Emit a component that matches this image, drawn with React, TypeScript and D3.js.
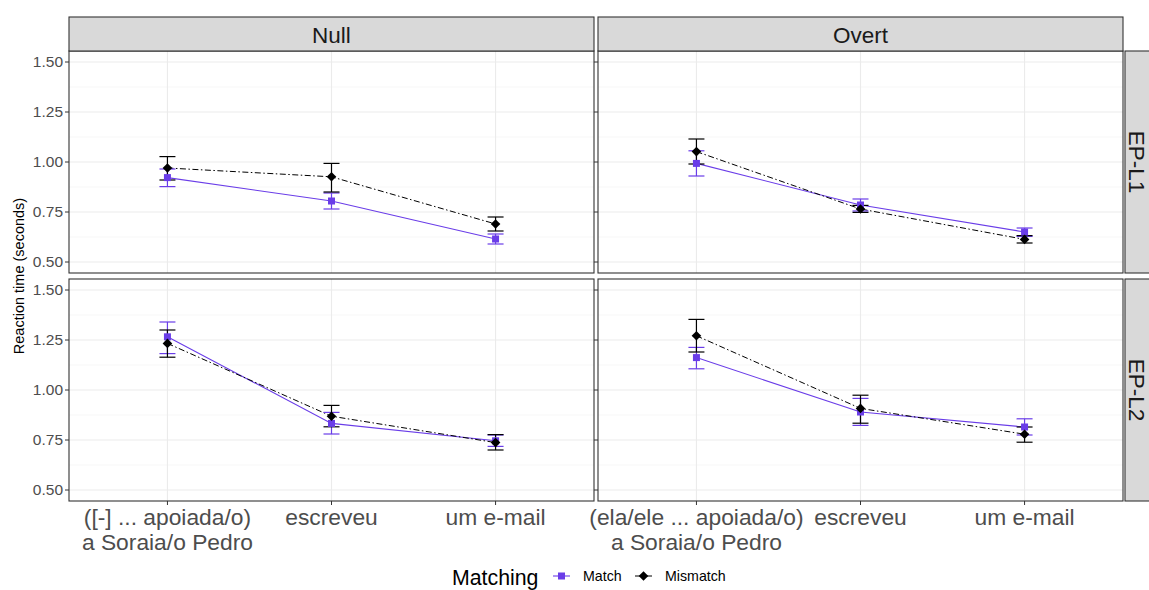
import * as d3 from "d3"
import React from "react"

// facets and categories
const conditions = ["Null", "Overt"]
const groups = ["EP-L1", "EP-L2"]
const series = ["Match", "Mismatch"]
const positions = ["p1", "p2", "p3"]
const posLabels = {
  Null: [["([-] ... apoiada/o)", "a Soraia/o Pedro"], ["escreveu"], ["um e-mail"]],
  Overt: [["(ela/ele ... apoiada/o)", "a Soraia/o Pedro"], ["escreveu"], ["um e-mail"]],
}
const yTicks = [0.5, 0.75, 1.0, 1.25, 1.5]
const yMinor = [0.625, 0.875, 1.125, 1.375]

// means and error bar ends, [condition-group][series]
const meanNullL1Match = [0.922, 0.805, 0.615]
const loNullL1Match = [0.877, 0.765, 0.59]
const hiNullL1Match = [0.965, 0.845, 0.64]
const meanNullL1Mis = [0.97, 0.926, 0.69]
const loNullL1Mis = [0.91, 0.85, 0.655]
const hiNullL1Mis = [1.027, 0.993, 0.725]

const meanOvertL1Match = [0.993, 0.785, 0.65]
const loOvertL1Match = [0.93, 0.755, 0.628]
const hiOvertL1Match = [1.056, 0.815, 0.67]
const meanOvertL1Mis = [1.052, 0.765, 0.613]
const loOvertL1Mis = [0.99, 0.748, 0.595]
const hiOvertL1Mis = [1.115, 0.783, 0.632]

const meanNullL2Match = [1.266, 0.833, 0.746]
const loNullL2Match = [1.182, 0.78, 0.718]
const hiNullL2Match = [1.34, 0.888, 0.775]
const meanNullL2Mis = [1.233, 0.869, 0.737]
const loNullL2Mis = [1.164, 0.816, 0.7]
const hiNullL2Mis = [1.3, 0.923, 0.777]

const meanOvertL2Match = [1.162, 0.89, 0.815]
const loOvertL2Match = [1.106, 0.823, 0.775]
const hiOvertL2Match = [1.213, 0.958, 0.856]
const meanOvertL2Mis = [1.271, 0.908, 0.779]
const loOvertL2Mis = [1.19, 0.834, 0.739]
const hiOvertL2Mis = [1.353, 0.974, 0.815]

const panelData = {
  "Null|EP-L1": {
    Match: { mean: meanNullL1Match, lo: loNullL1Match, hi: hiNullL1Match },
    Mismatch: { mean: meanNullL1Mis, lo: loNullL1Mis, hi: hiNullL1Mis },
  },
  "Overt|EP-L1": {
    Match: { mean: meanOvertL1Match, lo: loOvertL1Match, hi: hiOvertL1Match },
    Mismatch: { mean: meanOvertL1Mis, lo: loOvertL1Mis, hi: hiOvertL1Mis },
  },
  "Null|EP-L2": {
    Match: { mean: meanNullL2Match, lo: loNullL2Match, hi: hiNullL2Match },
    Mismatch: { mean: meanNullL2Mis, lo: loNullL2Mis, hi: hiNullL2Mis },
  },
  "Overt|EP-L2": {
    Match: { mean: meanOvertL2Match, lo: loOvertL2Match, hi: hiOvertL2Match },
    Mismatch: { mean: meanOvertL2Mis, lo: loOvertL2Mis, hi: hiOvertL2Mis },
  },
}

const W = 1149
const H = 590
const font = "'Liberation Sans', Arial, sans-serif"
const purple = "#6a3de8"
const colX = [69, 598]
const rowY = [51, 279]
const pw = 525
const ph = 222
const stripH = 34
const border = "#333333"

const colour = { Match: purple, Mismatch: "#000000" }
const dash = { Match: null, Mismatch: "6,2.5,1.5,2.5" }

const Marker = ({ s, x, y }) =>
  s === "Match" ? (
    <rect x={x - 3.5} y={y - 3.5} width={7} height={7} fill={purple} />
  ) : (
    <path d={`M${x},${y - 4.8}L${x + 4.8},${y}L${x},${y + 4.8}L${x - 4.8},${y}Z`} fill="#000" />
  )

const Panel = ({ cond, group, ci, ri }) => {
  const x0 = colX[ci]
  const y0 = rowY[ri]
  const x = d3.scalePoint().domain(positions).range([x0, x0 + pw]).padding(0.6)
  const y = d3.scaleLinear().domain([0.445, 1.555]).range([y0 + ph, y0])
  const d = panelData[`${cond}|${group}`]
  const line = d3
    .line()
    .x((v, i) => x(positions[i]))
    .y((v) => y(v))
  return (
    <g>
      <rect x={x0} y={y0} width={pw} height={ph} fill="#fff" />
      {yMinor.map((t) => (
        <line key={t} x1={x0} x2={x0 + pw} y1={y(t)} y2={y(t)} stroke="#f4f4f4" strokeWidth={0.7} />
      ))}
      {yTicks.map((t) => (
        <line key={t} x1={x0} x2={x0 + pw} y1={y(t)} y2={y(t)} stroke="#ebebeb" strokeWidth={1.1} />
      ))}
      {positions.map((p) => (
        <line key={p} x1={x(p)} x2={x(p)} y1={y0} y2={y0 + ph} stroke="#ebebeb" strokeWidth={1.1} />
      ))}
      {series.map((s) => (
        <path
          key={s}
          d={line(d[s].mean)}
          fill="none"
          stroke={colour[s]}
          strokeWidth={s === "Match" ? 1.1 : 1}
          strokeDasharray={dash[s] || undefined}
        />
      ))}
      {series.map((s) =>
        positions.map((p, i) => {
          const cx = x(p)
          return (
            <g key={s + p} stroke={colour[s]} strokeWidth={1.2}>
              <line x1={cx} x2={cx} y1={y(d[s].lo[i])} y2={y(d[s].hi[i])} />
              <line x1={cx - 8} x2={cx + 8} y1={y(d[s].lo[i])} y2={y(d[s].lo[i])} />
              <line x1={cx - 8} x2={cx + 8} y1={y(d[s].hi[i])} y2={y(d[s].hi[i])} />
            </g>
          )
        })
      )}
      {series.map((s) =>
        positions.map((p, i) => <Marker key={s + p} s={s} x={x(p)} y={y(d[s].mean[i])} />)
      )}
      <rect x={x0} y={y0} width={pw} height={ph} fill="none" stroke={border} strokeWidth={1.1} />
      {yTicks.map((t) => (
        <line key={t} x1={x0 - 4} x2={x0} y1={y(t)} y2={y(t)} stroke={border} strokeWidth={1} />
      ))}
      {ci === 0 &&
        yTicks.map((t) => (
          <text key={t} x={x0 - 6} y={y(t)} dy="0.35em" textAnchor="end" fontSize={15.5} fill="#4d4d4d">
            {t.toFixed(2)}
          </text>
        ))}
      {ri === 1 &&
        positions.map((p, i) => (
          <g key={p}>
            <line x1={x(p)} x2={x(p)} y1={y0 + ph} y2={y0 + ph + 4} stroke={border} />
            {posLabels[cond][i].map((l, k) => (
              <text key={k} x={x(p)} y={525 + k * 24.5} textAnchor="middle" fontSize={22.8} fill="#4d4d4d">
                {l}
              </text>
            ))}
          </g>
        ))}
    </g>
  )
}

export default function App() {
  return (
    <svg width={W} height={H} style={{ position: "absolute", left: 0, top: 0 }} fontFamily={font}>
      <rect width={W} height={H} fill="#fff" />
      {groups.map((g, ri) =>
        conditions.map((c, ci) => <Panel key={c + g} cond={c} group={g} ci={ci} ri={ri} />)
      )}
      {conditions.map((c, ci) => (
        <g key={c}>
          <rect x={colX[ci]} y={rowY[0] - stripH} width={pw} height={stripH} fill="#d9d9d9" stroke={border} strokeWidth={1.1} />
          <text x={colX[ci] + pw / 2} y={43} textAnchor="middle" fontSize={22.5} fill="#1a1a1a">
            {c}
          </text>
        </g>
      ))}
      {groups.map((g, ri) => (
        <g key={g}>
          <rect x={colX[1] + pw + 2} y={rowY[ri]} width={stripH} height={ph} fill="#d9d9d9" stroke={border} strokeWidth={1.1} />
          <text
            transform={`translate(1137,${rowY[ri] + ph / 2}) rotate(90)`}
            textAnchor="middle"
            dy="0.36em"
            fontSize={22.5}
            fill="#1a1a1a"
          >
            {g}
          </text>
        </g>
      ))}
      <text transform="translate(19,276) rotate(-90)" textAnchor="middle" dy="0.35em" fontSize={14.5} fill="#000">
        Reaction time (seconds)
      </text>
      <g>
        <text x={452} y={585} fontSize={21.3} fill="#000">
          Matching
        </text>
        <line x1={553} x2={570} y1={576} y2={576} stroke={purple} strokeWidth={1.1} />
        <Marker s="Match" x={561.5} y={576} />
        <text x={583} y={581} fontSize={14.2} fill="#000">
          Match
        </text>
        <line x1={635} x2={652} y1={576} y2={576} stroke="#000" strokeWidth={1} />
        <Marker s="Mismatch" x={643.5} y={576} />
        <text x={665} y={581} fontSize={14.2} fill="#000">
          Mismatch
        </text>
      </g>
    </svg>
  )
}
